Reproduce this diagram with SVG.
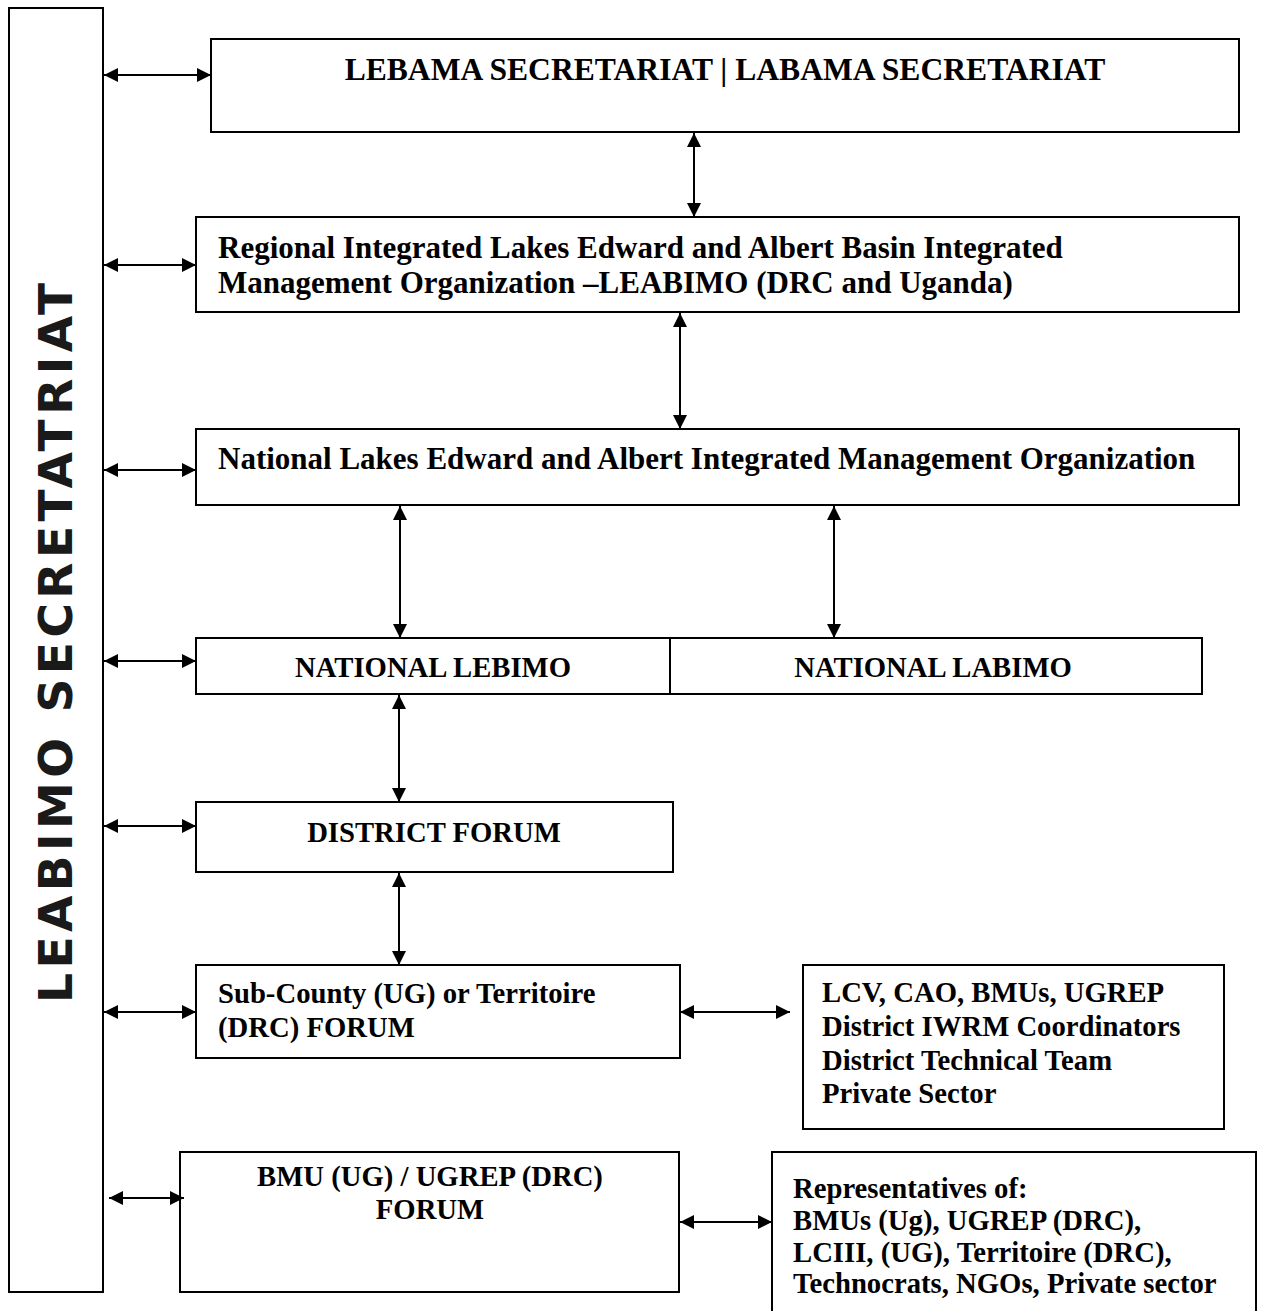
<svg xmlns="http://www.w3.org/2000/svg" width="1269" height="1311" viewBox="0 0 1269 1311">
<style>
  .box { fill: #ffffff; stroke: #000000; stroke-width: 2; }
  .t { font-family: "Liberation Serif", "Times New Roman", serif; font-weight: bold; fill: #000000; }
  .top { font-size: 31.6px; }
  .big { font-size: 31px; }
  .mid { font-size: 28.7px; }
  .c { text-anchor: middle; }
  .conn { stroke: #000000; stroke-width: 2; fill: none; marker-start: url(#ah); marker-end: url(#ah); }
  .side { font-family: "DejaVu Sans", "Liberation Sans", sans-serif; font-weight: bold; font-size: 47px; fill: #1a1a1a; }
</style>
<defs>
  <marker id="ah" viewBox="0 0 14 14" refX="14" refY="7" markerWidth="14" markerHeight="14" markerUnits="userSpaceOnUse" orient="auto-start-reverse">
    <path d="M0,0 L14,7 L0,14 z" fill="#000000"/>
  </marker>
</defs>
<rect width="1269" height="1311" fill="#ffffff"/>

<g id="leabimo-secretariat">
  <rect class="box" x="9" y="8" width="94" height="1284"/>
  <text class="side c" transform="translate(72,643) rotate(-90)" textLength="720" lengthAdjust="spacing">LEABIMO SECRETATRIAT</text>
</g>

<g id="lebama-secretariat">
  <rect class="box" x="211" y="39" width="1028" height="93"/>
  <text class="t top c" x="725" y="80">LEBAMA SECRETARIAT | LABAMA SECRETARIAT</text>
</g>

<g id="regional-leabimo">
  <rect class="box" x="196" y="217" width="1043" height="95"/>
  <text class="t big" x="218" y="258">Regional Integrated Lakes Edward and Albert Basin Integrated</text>
  <text class="t big" x="218" y="293">Management Organization –LEABIMO (DRC and Uganda)</text>
</g>

<g id="national-organization">
  <rect class="box" x="196" y="429" width="1043" height="76"/>
  <text class="t big" x="218" y="469">National Lakes Edward and Albert Integrated Management Organization</text>
</g>

<g id="national-lebimo">
  <rect class="box" x="196" y="638" width="474" height="56"/>
  <text class="t mid c" x="433" y="677">NATIONAL LEBIMO</text>
</g>

<g id="national-labimo">
  <rect class="box" x="670" y="638" width="532" height="56"/>
  <text class="t mid c" x="933" y="677">NATIONAL LABIMO</text>
</g>

<g id="district-forum">
  <rect class="box" x="196" y="802" width="477" height="70"/>
  <text class="t mid c" x="434" y="842">DISTRICT FORUM</text>
</g>

<g id="sub-county-forum">
  <rect class="box" x="196" y="965" width="484" height="93"/>
  <text class="t mid" x="218" y="1003">Sub-County (UG) or Territoire</text>
  <text class="t mid" x="218" y="1037">(DRC) FORUM</text>
</g>

<g id="district-members">
  <rect class="box" x="803" y="965" width="421" height="164"/>
  <text class="t mid" x="822" y="1002">LCV, CAO, BMUs, UGREP</text>
  <text class="t mid" x="822" y="1036">District IWRM Coordinators</text>
  <text class="t mid" x="822" y="1070">District Technical Team</text>
  <text class="t mid" x="822" y="1103">Private Sector</text>
</g>

<g id="bmu-forum">
  <rect class="box" x="180" y="1152" width="499" height="140"/>
  <text class="t mid c" x="430" y="1186">BMU (UG) / UGREP (DRC)</text>
  <text class="t mid c" x="430" y="1219">FORUM</text>
</g>

<g id="representatives">
  <rect class="box" x="772" y="1152" width="484" height="180"/>
  <text class="t mid" x="793" y="1198">Representatives of:</text>
  <text class="t mid" x="793" y="1230">BMUs (Ug), UGREP (DRC),</text>
  <text class="t mid" x="793" y="1262">LCIII, (UG), Territoire (DRC),</text>
  <text class="t mid" x="793" y="1293">Technocrats, NGOs, Private sector</text>
</g>

<g id="connectors">
  <line class="conn" x1="104" y1="75" x2="211" y2="75"/>
  <line class="conn" x1="104" y1="265" x2="196" y2="265"/>
  <line class="conn" x1="104" y1="470" x2="196" y2="470"/>
  <line class="conn" x1="104" y1="661" x2="196" y2="661"/>
  <line class="conn" x1="104" y1="826" x2="196" y2="826"/>
  <line class="conn" x1="104" y1="1012" x2="196" y2="1012"/>
  <line class="conn" x1="109" y1="1198" x2="184" y2="1198"/>
  <line class="conn" x1="680" y1="1012" x2="790" y2="1012"/>
  <line class="conn" x1="680" y1="1222" x2="772" y2="1222"/>
  <line class="conn" x1="694" y1="133" x2="694" y2="217"/>
  <line class="conn" x1="680" y1="313" x2="680" y2="429"/>
  <line class="conn" x1="400" y1="506" x2="400" y2="638"/>
  <line class="conn" x1="834" y1="506" x2="834" y2="638"/>
  <line class="conn" x1="399" y1="695" x2="399" y2="802"/>
  <line class="conn" x1="399" y1="873" x2="399" y2="965"/>
</g>
</svg>
